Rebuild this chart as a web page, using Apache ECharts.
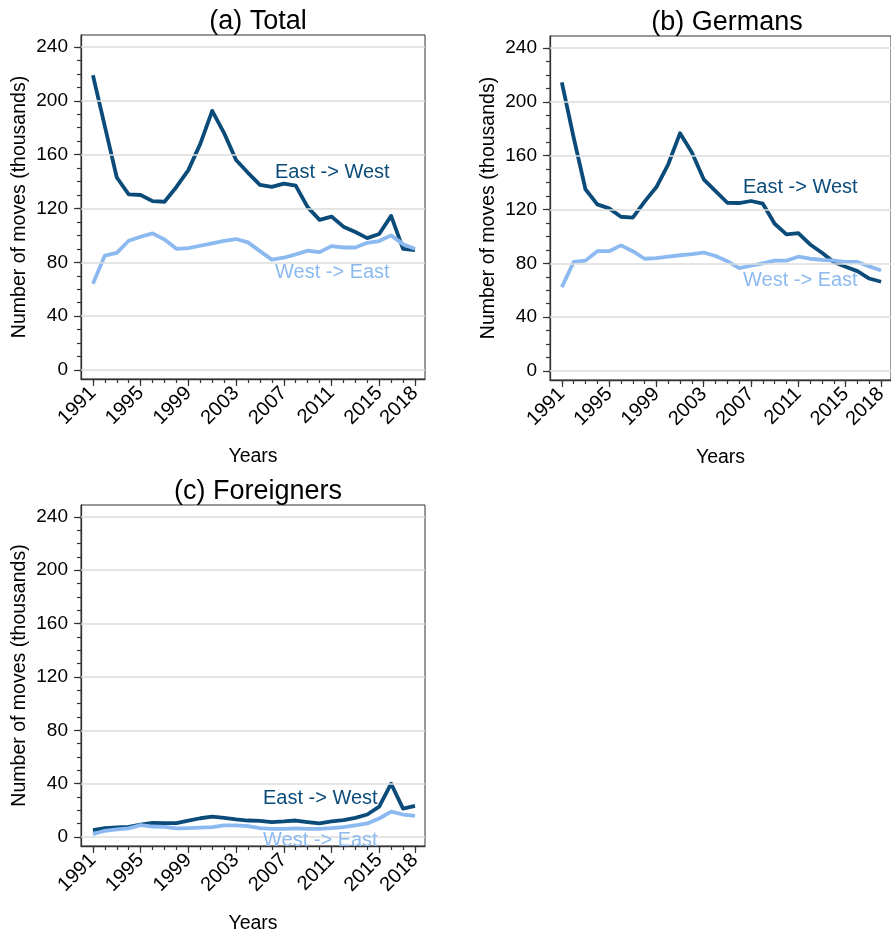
<!DOCTYPE html>
<html>
<head>
<meta charset="utf-8">
<script src="https://cdn.jsdelivr.net/npm/echarts@6/dist/echarts.min.js"></script>
<style>html,body{margin:0;padding:0;background:#fff}#c{width:891px;height:935px}</style>
</head>
<body>
<div id="c"></div>
<script>
const years = [1991,1992,1993,1994,1995,1996,1997,1998,1999,2000,2001,2002,2003,2004,2005,2006,2007,2008,2009,2010,2011,2012,2013,2014,2015,2016,2017,2018];
const yearLabels = [1991,1995,1999,2003,2007,2011,2015,2018];
const yMajor = [0,40,80,120,160,200,240];
const yMinor = [0,10,20,30,40,50,60,70,80,90,100,110,120,130,140,150,160,170,180,190,200,210,220,230,240];

const totalEW = [219,181,143,130.5,130,125.5,125,136,148.5,168,192.5,176,156,146.5,137.5,136,138.5,137,121,111.5,114,106.5,102.5,98,101,114.5,90,89];
const totalWE = [64,85,87,96,99,101.5,97,90,90.5,92.3,94,96,97.3,94.8,88.3,82,83.4,85.9,88.6,87.6,92,91,91,94.5,95.8,100,93.5,90];
const germEW = [214.5,173.5,135,123.8,120.8,114.6,114,125.8,136.7,153.6,176.7,162.3,142.4,133.7,125,124.8,126.3,124.3,109.4,101.5,102.5,94,87.8,81,77.4,74.2,68.7,66.3];
const germWE = [62.3,81,82,89,89,93.3,89,83.4,83.9,85,86,86.8,88,85.4,81.6,76.4,78.2,80,82,82,84.9,83.4,82.6,82,81,81,77.7,74.7];
const forEW = [5.2,6.7,7.2,7.7,9.4,10.7,10.5,10.5,12.4,14.1,15.4,14.4,13.2,12.4,12.2,11.2,11.7,12.4,11.2,10.2,11.7,12.7,14.4,16.9,22.8,40,21.3,23.3];
const forWE = [2.2,4.7,5.7,6.5,8.9,7.9,7.7,6.5,6.7,7,7.4,8.7,8.7,8.2,6.7,6.2,6.2,6.5,6.2,6.2,6.7,7.4,8.7,10.2,13.9,19.1,16.9,15.9];

const panelTitles = ['(a) Total','(b) Germans','(c) Foreigners'];
const seriesEW = [totalEW, germEW, forEW];
const seriesWE = [totalWE, germWE, forWE];

const DARK = '#0b4b7a';
const LIGHT = '#8cbaf0';
const FONT = 'Liberation Sans, Arial, Helvetica, sans-serif';
const AXC = '#333';

const boxes = [
  {left: 81, top: 35},
  {left: 550, top: 36},
  {left: 81, top: 505}
];
const BOX = 344;

const pairs = (arr) => arr.map((v, i) => [years[i], v]);

const option = {
  backgroundColor: '#fff',
  animation: false,
  textStyle: {fontFamily: FONT},
  title: [], grid: [], xAxis: [], yAxis: [], series: [], graphic: []
};

boxes.forEach((b, g) => {
  option.title.push({
    text: panelTitles[g], left: b.left + BOX / 2, top: b.top - 32, textAlign: 'center',
    textStyle: {fontFamily: FONT, fontSize: 27, fontWeight: 'normal', color: '#000'}
  });
  option.grid.push({
    left: b.left, top: b.top, width: BOX, height: BOX,
    show: true, borderColor: AXC, borderWidth: 1, backgroundColor: '#fff', containLabel: false
  });
  option.xAxis.push({
    type: 'value', gridIndex: g, position: 'bottom', min: 1990, max: 2018.84,
    name: 'Years', nameLocation: 'middle', nameGap: 68,
    nameTextStyle: {fontFamily: FONT, fontSize: 19.5, color: '#000'},
    axisLine: {show: true, onZero: false, lineStyle: {color: AXC, width: 1.3}},
    axisTick: {show: true, length: 7, customValues: yearLabels, lineStyle: {color: AXC, width: 1.2}},
    axisLabel: {show: true, customValues: yearLabels, rotate: 45, margin: 11, fontSize: 20, color: '#000', fontFamily: FONT,
      formatter: (v) => String(v)},
    splitLine: {show: false}
  });
  option.xAxis.push({
    type: 'value', gridIndex: g, position: 'bottom', min: 1990, max: 2018.84,
    axisLine: {show: false, onZero: false},
    axisTick: {show: true, length: 4, customValues: years, lineStyle: {color: AXC, width: 1.2}},
    axisLabel: {show: false},
    splitLine: {show: false}
  });
  option.yAxis.push({
    type: 'value', gridIndex: g, position: 'left', min: -6.7, max: 248.9,
    name: 'Number of moves (thousands)', nameLocation: 'middle', nameGap: 51, nameRotate: 90,
    nameTextStyle: {fontFamily: FONT, fontSize: 19.5, color: '#000'},
    axisLine: {show: true, onZero: false, lineStyle: {color: AXC, width: 1.3}},
    axisTick: {show: true, length: 7, customValues: yMajor, lineStyle: {color: AXC, width: 1.2}},
    axisLabel: {show: true, customValues: yMajor, margin: 13, fontSize: 19, color: '#000', fontFamily: FONT},
    splitLine: {show: false}
  });
  option.yAxis.push({
    type: 'value', gridIndex: g, position: 'left', min: -6.7, max: 248.9,
    axisLine: {show: false, onZero: false},
    axisTick: {show: true, length: 4, customValues: yMinor, lineStyle: {color: AXC, width: 1.2}},
    axisLabel: {show: false},
    splitLine: {show: false}
  });
  const xi = g * 2, yi = g * 2;
  option.series.push({
    type: 'line', xAxisIndex: xi, yAxisIndex: yi, data: [], z: 1, silent: true,
    markLine: {
      silent: true, symbol: ['none', 'none'], label: {show: false},
      lineStyle: {color: '#dcdcdc', width: 1.6, type: 'solid'},
      emphasis: {disabled: true},
      data: yMajor.map(v => ({yAxis: v}))
    }
  });
  option.series.push({
    type: 'line', name: 'East -> West', xAxisIndex: xi, yAxisIndex: yi, z: 3,
    data: pairs(seriesEW[g]), showSymbol: false, symbol: 'none',
    lineStyle: {color: DARK, width: 3.8, join: 'round'}, itemStyle: {color: DARK}
  });
  option.series.push({
    type: 'line', name: 'West -> East', xAxisIndex: xi, yAxisIndex: yi, z: 4,
    data: pairs(seriesWE[g]), showSymbol: false, symbol: 'none',
    lineStyle: {color: LIGHT, width: 3.8, join: 'round'}, itemStyle: {color: LIGHT}
  });
});

const ann = [
  {t: 'East -> West', x: 275, y: 172, c: DARK},
  {t: 'West -> East', x: 275, y: 272, c: LIGHT},
  {t: 'East -> West', x: 743, y: 187, c: DARK},
  {t: 'West -> East', x: 743, y: 280, c: LIGHT},
  {t: 'East -> West', x: 263, y: 798, c: DARK},
  {t: 'West -> East', x: 263, y: 840, c: LIGHT}
];
ann.forEach(a => option.graphic.push({
  type: 'text', x: a.x, y: a.y, z: 10,
  style: {text: a.t, fill: a.c, font: '20px ' + FONT, textVerticalAlign: 'middle', verticalAlign: 'middle'}
}));

const chart = echarts.init(document.getElementById('c'), null, {renderer: 'canvas'});
chart.setOption(option);
</script>
</body>
</html>
